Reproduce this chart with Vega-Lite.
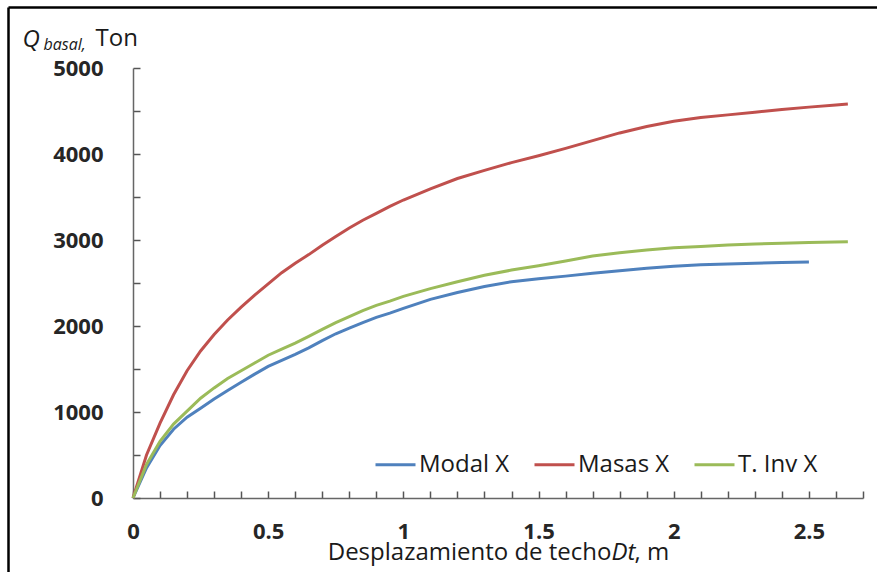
{
  "$schema": "https://vega.github.io/schema/vega-lite/v6.json",
  "autosize": {"type": "none"},
  "width": 876,
  "height": 568,
  "padding": {"left": 8, "top": 7, "right": -7, "bottom": -3},
  "background": "white",
  "config": {
    "view": {"stroke": null},
    "font": "Open Sans",
    "axis": {"grid": false}
  },
  "data": {"values": [
    {"serie":"Modal X","d":0,"q":0},{"serie":"Modal X","d":0.05,"q":350},{"serie":"Modal X","d":0.1,"q":610},{"serie":"Modal X","d":0.15,"q":800},{"serie":"Modal X","d":0.2,"q":940},{"serie":"Modal X","d":0.25,"q":1045},{"serie":"Modal X","d":0.3,"q":1150},{"serie":"Modal X","d":0.35,"q":1250},{"serie":"Modal X","d":0.4,"q":1345},{"serie":"Modal X","d":0.45,"q":1440},{"serie":"Modal X","d":0.5,"q":1530},{"serie":"Modal X","d":0.55,"q":1600},{"serie":"Modal X","d":0.6,"q":1670},{"serie":"Modal X","d":0.65,"q":1745},{"serie":"Modal X","d":0.7,"q":1830},{"serie":"Modal X","d":0.75,"q":1910},{"serie":"Modal X","d":0.8,"q":1975},{"serie":"Modal X","d":0.85,"q":2040},{"serie":"Modal X","d":0.9,"q":2100},{"serie":"Modal X","d":0.95,"q":2150},{"serie":"Modal X","d":1.0,"q":2205},{"serie":"Modal X","d":1.1,"q":2310},{"serie":"Modal X","d":1.2,"q":2390},{"serie":"Modal X","d":1.3,"q":2460},{"serie":"Modal X","d":1.4,"q":2515},{"serie":"Modal X","d":1.5,"q":2550},{"serie":"Modal X","d":1.6,"q":2580},{"serie":"Modal X","d":1.7,"q":2614},{"serie":"Modal X","d":1.8,"q":2643},{"serie":"Modal X","d":1.9,"q":2672},{"serie":"Modal X","d":2.0,"q":2695},{"serie":"Modal X","d":2.1,"q":2712},{"serie":"Modal X","d":2.2,"q":2721},{"serie":"Modal X","d":2.3,"q":2731},{"serie":"Modal X","d":2.4,"q":2738},{"serie":"Modal X","d":2.5,"q":2744},
    {"serie":"Masas X","d":0,"q":0},{"serie":"Masas X","d":0.05,"q":500},{"serie":"Masas X","d":0.1,"q":870},{"serie":"Masas X","d":0.15,"q":1200},{"serie":"Masas X","d":0.2,"q":1480},{"serie":"Masas X","d":0.25,"q":1710},{"serie":"Masas X","d":0.3,"q":1900},{"serie":"Masas X","d":0.35,"q":2070},{"serie":"Masas X","d":0.4,"q":2220},{"serie":"Masas X","d":0.45,"q":2360},{"serie":"Masas X","d":0.5,"q":2490},{"serie":"Masas X","d":0.55,"q":2620},{"serie":"Masas X","d":0.6,"q":2730},{"serie":"Masas X","d":0.65,"q":2830},{"serie":"Masas X","d":0.7,"q":2940},{"serie":"Masas X","d":0.75,"q":3040},{"serie":"Masas X","d":0.8,"q":3140},{"serie":"Masas X","d":0.85,"q":3230},{"serie":"Masas X","d":0.9,"q":3310},{"serie":"Masas X","d":0.95,"q":3390},{"serie":"Masas X","d":1.0,"q":3465},{"serie":"Masas X","d":1.1,"q":3595},{"serie":"Masas X","d":1.2,"q":3715},{"serie":"Masas X","d":1.3,"q":3810},{"serie":"Masas X","d":1.4,"q":3900},{"serie":"Masas X","d":1.5,"q":3980},{"serie":"Masas X","d":1.6,"q":4065},{"serie":"Masas X","d":1.7,"q":4155},{"serie":"Masas X","d":1.8,"q":4245},{"serie":"Masas X","d":1.9,"q":4320},{"serie":"Masas X","d":2.0,"q":4380},{"serie":"Masas X","d":2.1,"q":4425},{"serie":"Masas X","d":2.2,"q":4455},{"serie":"Masas X","d":2.3,"q":4485},{"serie":"Masas X","d":2.4,"q":4518},{"serie":"Masas X","d":2.5,"q":4545},{"serie":"Masas X","d":2.6,"q":4570},{"serie":"Masas X","d":2.644,"q":4581},
    {"serie":"T. Inv X","d":0,"q":0},{"serie":"T. Inv X","d":0.05,"q":390},{"serie":"T. Inv X","d":0.1,"q":660},{"serie":"T. Inv X","d":0.15,"q":860},{"serie":"T. Inv X","d":0.2,"q":1010},{"serie":"T. Inv X","d":0.25,"q":1160},{"serie":"T. Inv X","d":0.3,"q":1280},{"serie":"T. Inv X","d":0.35,"q":1390},{"serie":"T. Inv X","d":0.4,"q":1480},{"serie":"T. Inv X","d":0.45,"q":1570},{"serie":"T. Inv X","d":0.5,"q":1660},{"serie":"T. Inv X","d":0.55,"q":1730},{"serie":"T. Inv X","d":0.6,"q":1800},{"serie":"T. Inv X","d":0.65,"q":1880},{"serie":"T. Inv X","d":0.7,"q":1960},{"serie":"T. Inv X","d":0.75,"q":2040},{"serie":"T. Inv X","d":0.8,"q":2110},{"serie":"T. Inv X","d":0.85,"q":2180},{"serie":"T. Inv X","d":0.9,"q":2240},{"serie":"T. Inv X","d":0.95,"q":2290},{"serie":"T. Inv X","d":1.0,"q":2345},{"serie":"T. Inv X","d":1.1,"q":2435},{"serie":"T. Inv X","d":1.2,"q":2515},{"serie":"T. Inv X","d":1.3,"q":2590},{"serie":"T. Inv X","d":1.4,"q":2650},{"serie":"T. Inv X","d":1.5,"q":2700},{"serie":"T. Inv X","d":1.6,"q":2755},{"serie":"T. Inv X","d":1.7,"q":2815},{"serie":"T. Inv X","d":1.8,"q":2852},{"serie":"T. Inv X","d":1.9,"q":2885},{"serie":"T. Inv X","d":2.0,"q":2910},{"serie":"T. Inv X","d":2.1,"q":2925},{"serie":"T. Inv X","d":2.2,"q":2942},{"serie":"T. Inv X","d":2.3,"q":2953},{"serie":"T. Inv X","d":2.4,"q":2962},{"serie":"T. Inv X","d":2.5,"q":2970},{"serie":"T. Inv X","d":2.644,"q":2980}
  ]},
  "resolve": {
    "scale": {"x": "independent", "y": "independent"},
    "axis": {"x": "independent", "y": "independent"}
  },
  "layer": [
    {
      "mark": {"type": "line", "strokeWidth": 3},
      "encoding": {
        "x": {
          "field": "d", "type": "quantitative",
          "scale": {"domain": [0, 2.7], "range": [125, 855], "nice": false, "zero": false},
          "axis": {
            "orient": "bottom", "offset": -77,
            "values": [0,0.1,0.2,0.3,0.4,0.5,0.6,0.7,0.8,0.9,1,1.1,1.2,1.3,1.4,1.5,1.6,1.7,1.8,1.9,2,2.1,2.2,2.3,2.4,2.5,2.6,2.7],
            "format": "~g",
            "labelExpr": "round(datum.value*10) % 5 == 0 ? datum.label : ''",
            "labelFont": "Open Sans", "labelFontSize": 22, "labelFontWeight": "bold", "labelColor": "#262626",
            "labelPadding": 30, "labelFlush": false, "labelOverlap": false,
            "tickSize": -7, "tickColor": "#555555", "tickWidth": 1.5,
            "domainColor": "#666666", "domainWidth": 1.5,
            "title": "Desplazamiento de techo", "titleFont": "Open Sans", "titleFontSize": 24, "titleFontWeight": "normal", "titleColor": "#1a1a1a",
            "titleAlign": "right", "titleBaseline": "alphabetic", "titleX": 603, "titleY": 61, "titleAngle": 0
          }
        },
        "y": {
          "field": "q", "type": "quantitative",
          "scale": {"domain": [0, 5000], "range": [491, 61], "nice": false},
          "axis": {
            "orient": "left", "offset": -125,
            "values": [0,500,1000,1500,2000,2500,3000,3500,4000,4500,5000],
            "format": "d",
            "labelExpr": "datum.value % 1000 == 0 ? datum.label : ''",
            "labelFont": "Open Sans", "labelFontSize": 22, "labelFontWeight": "bold", "labelColor": "#262626",
            "labelPadding": 37, "labelOverlap": false, "labelFlush": false,
            "tickSize": -7, "tickColor": "#555555", "tickWidth": 1.5,
            "domainColor": "#666666", "domainWidth": 1.5,
            "title": "Q", "titleFont": "Open Sans", "titleFontSize": 24, "titleFontStyle": "italic", "titleFontWeight": "normal", "titleColor": "#1a1a1a",
            "titleAngle": 0, "titleAlign": "left", "titleBaseline": "alphabetic", "titleX": -111, "titleY": 39
          }
        },
        "color": {
          "field": "serie", "type": "nominal",
          "scale": {"domain": ["Modal X", "Masas X", "T. Inv X"], "range": ["#4F81BD", "#C0504D", "#9BBB59"]},
          "legend": {
            "orient": "none", "direction": "horizontal", "legendX": 366, "legendY": 436,
            "title": null, "padding": 0,
            "symbolType": "stroke", "symbolSize": 1600, "symbolStrokeWidth": 3,
            "labelFont": "Open Sans", "labelFontSize": 24, "labelColor": "#1a1a1a", "labelOffset": 2,
            "columnPadding": 18, "labelLimit": 300
          }
        }
      }
    },
    {
      "mark": {"type": "point", "opacity": 0},
      "encoding": {
        "x": {
          "field": "d", "type": "quantitative",
          "scale": {"range": [0, 876]},
          "axis": {"orient": "top", "offset": 0, "domain": true, "domainColor": "#000000", "domainWidth": 2.5, "ticks": false, "labels": false,
            "title": "basal,", "titleFont": "Open Sans", "titleFontSize": 16, "titleFontStyle": "italic", "titleFontWeight": "normal", "titleColor": "#1a1a1a",
            "titleAlign": "left", "titleBaseline": "alphabetic", "titleX": 35, "titleY": 42, "titleAngle": 0}
        },
        "y": {
          "field": "q", "type": "quantitative",
          "axis": {"orient": "right", "domain": false, "ticks": false, "labels": false,
            "title": "Ton", "titleFont": "Open Sans", "titleFontSize": 24, "titleFontWeight": "normal", "titleColor": "#1a1a1a",
            "titleAlign": "left", "titleBaseline": "alphabetic", "titleX": -789, "titleY": 38, "titleAngle": 0}
        }
      }
    },
    {
      "mark": {"type": "point", "opacity": 0},
      "encoding": {
        "x": {
          "field": "d", "type": "quantitative",
          "scale": {"domain": [0, 2.7], "range": [125, 855], "nice": false, "zero": false},
          "axis": {"orient": "bottom", "offset": -77, "domain": false, "ticks": false, "labels": false,
            "title": "Dt", "titleFont": "Open Sans", "titleFontSize": 24, "titleFontStyle": "italic", "titleFontWeight": "normal", "titleColor": "#1a1a1a",
            "titleAlign": "left", "titleBaseline": "alphabetic", "titleX": 603, "titleY": 61, "titleAngle": 0}
        },
        "y": {
          "field": "q", "type": "quantitative",
          "scale": {"range": [568, 0]},
          "axis": {"orient": "left", "offset": 0, "domain": true, "domainColor": "#000000", "domainWidth": 2.5, "ticks": false, "labels": false,
            "title": ", m", "titleFont": "Open Sans", "titleFontSize": 24, "titleFontWeight": "normal", "titleColor": "#1a1a1a",
            "titleAlign": "left", "titleBaseline": "alphabetic", "titleX": 626, "titleY": 552, "titleAngle": 0}
        }
      }
    }
  ]
}
